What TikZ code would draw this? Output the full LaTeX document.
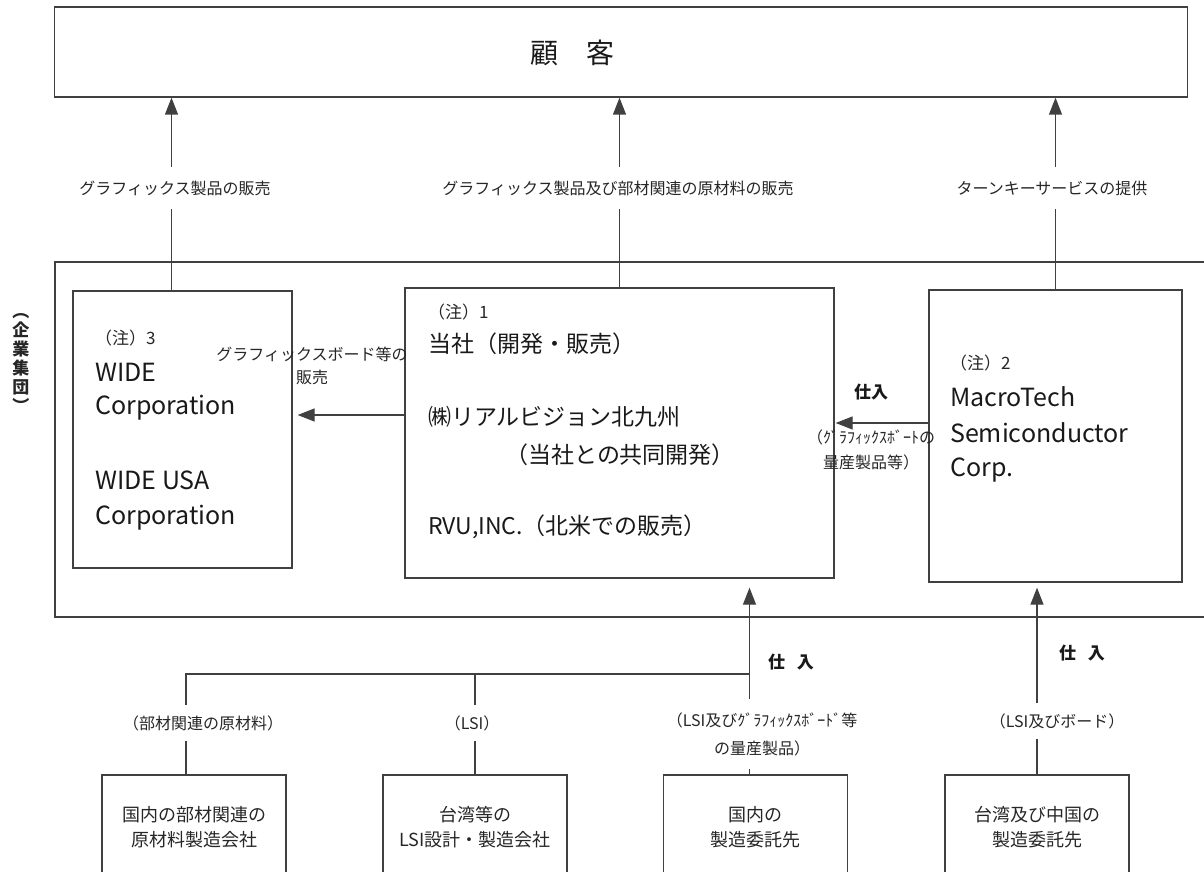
\documentclass[tikz,border=0pt]{standalone}
\usepackage{fontspec}
\setmainfont{Noto Sans CJK JP}
\usepackage{tikz}
\usetikzlibrary{arrows.meta}
\tikzset{
  firm box/.style={
    rectangle, draw=black!75, line width=1.3pt, inner sep=0pt,
  },
  flow line/.style={
    draw=black!75, line width=1.3pt,
  },
  flow label/.style={
    fill=white, inner xsep=2pt, inner ysep=#1, align=center, text=black!85,
    font=\fontsize{16}{25}\selectfont,
  },
  flow label/.default=10pt,
  note text/.style={anchor=west, inner sep=0pt, text=black!85, font=\fontsize{17}{20}\selectfont},
  name text/.style={anchor=west, inner sep=0pt, text=black!90, font=\fontsize{25}{30}\selectfont},
  jp text/.style={anchor=west, inner sep=0pt, text=black!90, font=\fontsize{23}{28}\selectfont},
  buy text/.style={text=black!90, font=\bfseries\fontsize{17}{20}\selectfont},
  >={Triangle[length=17pt,width=13pt]}
}
\begin{document}
\begin{tikzpicture}[x=1pt,y=-1pt]
    \useasboundingbox (0,0) rectangle (1204,872);
    \clip (0,0) rectangle (1204,872);

    \begin{scope}[every node/.style={firm box}]
        \node[minimum width=1133pt, minimum height=90pt] (Customer) at (621,52) {};

        \node[minimum width=219pt, minimum height=277pt] (Wide) at (182.5,429.5) {};
        \node[minimum width=429pt, minimum height=290pt] (Rvh) at (619.5,433) {};
        \node[minimum width=253pt, minimum height=292pt] (Macro) at (1055.5,436) {};
    \end{scope}
    \begin{scope}[every node/.style={firm box, minimum width=184pt, minimum height=104pt,
        align=center, text=black!85, font=\fontsize{18}{25}\selectfont}]
        \node (DomMat) at (194,827) {国内の部材関連の\\原材料製造会社};
        \node (TwLsi) at (475,827) {台湾等の\\LSI設計・製造会社};
        \node (DomMfg) at (755.5,827) {国内の\\製造委託先};
        \node (TwCn) at (1037,827) {台湾及び中国の\\製造委託先};
    \end{scope}
    \draw[flow line] (55,262) rectangle (1230,617);

    \node[text=black!90, font=\fontsize{28}{30}\selectfont] (CustomerName) at (572,53) {顧　客};
    \node[align=center, text=black!85, font=\bfseries\fontsize{17}{19}\selectfont] (Group) at (21,363) {︵\\企\\業\\集\\団\\︶};

    \node[note text] (WideNote) at (95,338) {（注）3};
    \node[name text] (WideA) at (95,372) {WIDE};
    \node[name text] (WideB) at (95,408) {Corporation};
    \node[name text] (WideC) at (95,480) {WIDE USA};
    \node[name text] (WideD) at (95,518) {Corporation};

    \node[note text] (RvhNote) at (428,312) {（注）1};
    \node[jp text] (RvhA) at (428,344) {当社（開発・販売）};
    \node[jp text] (RvhB) at (428,417) {㈱リアルビジョン北九州};
    \node[jp text] (RvhC) at (505,455) {（当社との共同開発）};
    \node[jp text] (RvhD) at (428,527) {RVU,INC.（北米での販売）};

    \node[note text] (MacroNote) at (950,363) {（注）2};
    \node[name text] (MacroA) at (950,397) {MacroTech};
    \node[name text] (MacroB) at (950,433) {Semiconductor};
    \node[name text] (MacroC) at (950,470) {Corp.};

    \begin{scope}[every path/.style={flow line}]
        \draw[->] ([xshift=-11pt]Wide.north) -- ([xshift=-11pt]Wide.north |- Customer.south);
        \draw[->] (Rvh.north) -- (Rvh.north |- Customer.south);
        \draw[->] (Macro.north) -- (Macro.north |- Customer.south);

        \draw[->, shorten >=5pt] ([yshift=18pt]Rvh.west) -- ([yshift=18pt]Rvh.west -| Wide.east);
        \draw[->, shorten >=1pt] ([yshift=13pt]Macro.west) -- ([yshift=13pt]Macro.west -| Rvh.east);

        \coordinate (Bus) at (749,674);
        \draw ([xshift=-8pt]DomMat.north) |- (Bus);
        \draw (TwLsi.north) -- (TwLsi.north |- Bus);
        \draw[->, shorten >=9pt] ([xshift=-6pt]DomMfg.north) -- ([xshift=-6pt]DomMfg.north |- Rvh.south);
        \draw[->, shorten >=5pt] (TwCn.north) -- (TwCn.north |- Macro.south);
    \end{scope}

    \node[flow label=14pt] (SellWide) at (175,188) {グラフィックス製品の販売};
    \node[flow label=14pt] (SellRvh) at (618,188) {グラフィックス製品及び部材関連の原材料の販売};
    \node[flow label=14pt] (SellMacro) at (1052,188) {ターンキーサービスの提供};

    \node[flow label=0pt, fill=none, font=\fontsize{16}{23}\selectfont] (BoardSale) at (312,366) {グラフィックスボード等の\\販売};
    \node[buy text] (BuyMacro) at (871,392) {仕入};
    \node[flow label=0pt, fill=none] (BuyMacroItem) at (871,450) {（ｸﾞﾗﾌｨｯｸｽﾎﾞｰﾄの\\量産製品等）};

    \node[flow label] (MatItem) at (203,723) {（部材関連の原材料）};
    \node[flow label] (LsiItem) at (472,723) {（LSI）};
    \node[flow label=13pt, font=\fontsize{16}{28}\selectfont] (MfgItem) at (762,734) {（LSI及びｸﾞﾗﾌｨｯｸｽﾎﾞｰﾄﾞ等\\の量産製品）};
    \node[flow label] (BoardItem) at (1057,721) {（LSI及びボード）};
    \node[buy text] (BuyRvh) at (791,662) {仕\hspace{0.7em}入};
    \node[buy text] (BuyTwCn) at (1082,653) {仕\hspace{0.7em}入};
\end{tikzpicture}
\end{document}
